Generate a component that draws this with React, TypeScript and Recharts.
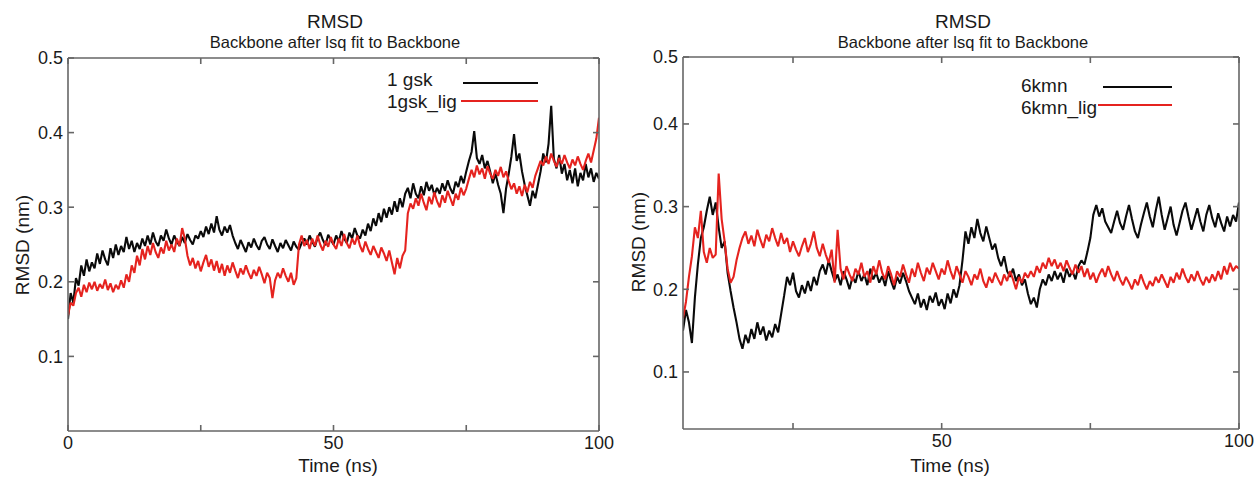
import { LineChart, Line, XAxis, YAxis } from "recharts";

// sampling step of both trajectories (ns)
const STEP = 0.5;

// 1gsk panel, t = 0 .. 100 ns
const gskStart = 0;
const gsk = [
  0.150, 0.185, 0.172, 0.205, 0.195, 0.222, 0.208, 0.230, 0.214, 0.226,
  0.218, 0.238, 0.224, 0.242, 0.230, 0.222, 0.245, 0.232, 0.250, 0.236,
  0.248, 0.240, 0.260, 0.244, 0.255, 0.240, 0.252, 0.244, 0.258, 0.248,
  0.262, 0.250, 0.266, 0.254, 0.248, 0.262, 0.255, 0.270, 0.258, 0.250,
  0.262, 0.254, 0.248, 0.260, 0.252, 0.264, 0.256, 0.250, 0.262, 0.258,
  0.268, 0.260, 0.274, 0.264, 0.278, 0.266, 0.288, 0.270, 0.262, 0.274,
  0.266, 0.276, 0.262, 0.252, 0.244, 0.256, 0.248, 0.240, 0.253, 0.246,
  0.258, 0.249, 0.243, 0.255, 0.260, 0.250, 0.244, 0.257, 0.248, 0.240,
  0.252, 0.245, 0.256, 0.249, 0.242, 0.254, 0.247, 0.243, 0.252, 0.258,
  0.250, 0.262, 0.254, 0.247, 0.259, 0.266, 0.256, 0.249, 0.263, 0.256,
  0.250, 0.262, 0.254, 0.268, 0.258, 0.252, 0.266, 0.258, 0.272, 0.262,
  0.258, 0.270, 0.262, 0.278, 0.268, 0.285, 0.275, 0.292, 0.280, 0.298,
  0.286, 0.300, 0.290, 0.308, 0.294, 0.312, 0.300, 0.318, 0.326, 0.312,
  0.332, 0.318, 0.312, 0.328, 0.316, 0.334, 0.322, 0.330, 0.316, 0.326,
  0.318, 0.332, 0.322, 0.336, 0.325, 0.318, 0.334, 0.327, 0.342, 0.332,
  0.348, 0.362, 0.374, 0.402, 0.366, 0.358, 0.370, 0.352, 0.362, 0.348,
  0.332, 0.345, 0.330, 0.318, 0.292, 0.325, 0.345, 0.368, 0.398, 0.362,
  0.372, 0.348, 0.330, 0.316, 0.302, 0.322, 0.312, 0.330, 0.348, 0.372,
  0.360, 0.385, 0.436, 0.365, 0.352, 0.370, 0.345, 0.358, 0.336, 0.350,
  0.332, 0.352, 0.328, 0.346, 0.336, 0.358, 0.340, 0.352, 0.334, 0.346,
  0.338,
];
const gskLig = [
  0.155, 0.172, 0.168, 0.185, 0.192, 0.180, 0.196, 0.186, 0.199, 0.190,
  0.200, 0.188, 0.197, 0.191, 0.203, 0.189, 0.198, 0.186, 0.196, 0.190,
  0.202, 0.192, 0.210, 0.200, 0.222, 0.212, 0.235, 0.222, 0.244, 0.230,
  0.248, 0.236, 0.252, 0.240, 0.232, 0.246, 0.238, 0.255, 0.242, 0.250,
  0.240, 0.258, 0.248, 0.272, 0.258, 0.235, 0.222, 0.232, 0.218, 0.228,
  0.214, 0.226, 0.236, 0.220, 0.230, 0.215, 0.228, 0.212, 0.224, 0.208,
  0.222, 0.212, 0.226, 0.215, 0.205, 0.218, 0.210, 0.222, 0.212, 0.204,
  0.216, 0.208, 0.220, 0.210, 0.198, 0.212, 0.205, 0.178, 0.202, 0.212,
  0.205, 0.218, 0.208, 0.200, 0.212, 0.196, 0.205, 0.250, 0.262, 0.248,
  0.256, 0.244, 0.258, 0.248, 0.262, 0.250, 0.242, 0.255, 0.247, 0.260,
  0.250, 0.244, 0.258, 0.248, 0.264, 0.252, 0.245, 0.258, 0.250, 0.262,
  0.248, 0.240, 0.254, 0.244, 0.236, 0.248, 0.240, 0.232, 0.246, 0.238,
  0.228, 0.242, 0.226, 0.210, 0.232, 0.218, 0.235, 0.242, 0.292, 0.305,
  0.298, 0.312, 0.302, 0.318, 0.306, 0.296, 0.314, 0.304, 0.320, 0.308,
  0.300, 0.316, 0.306, 0.322, 0.312, 0.302, 0.318, 0.310, 0.326, 0.316,
  0.325, 0.338, 0.350, 0.340, 0.356, 0.344, 0.352, 0.338, 0.355, 0.345,
  0.338, 0.350, 0.342, 0.354, 0.340, 0.348, 0.335, 0.324, 0.332, 0.318,
  0.328, 0.315, 0.330, 0.320, 0.334, 0.326, 0.342, 0.352, 0.362, 0.356,
  0.368, 0.358, 0.372, 0.362, 0.354, 0.366, 0.358, 0.370, 0.360, 0.352,
  0.364, 0.356, 0.368, 0.358, 0.350, 0.362, 0.372, 0.360, 0.376, 0.392,
  0.420,
];

// 6kmn panel, t = 6.5 .. 100 ns (axis is cut at the left)
const kmnStart = 6.5;
const kmn = [
  0.150, 0.175, 0.160, 0.135, 0.190, 0.230, 0.262,
  0.275, 0.295, 0.312, 0.290, 0.305, 0.275, 0.250, 0.258, 0.220, 0.198,
  0.178, 0.160, 0.140, 0.128, 0.145, 0.135, 0.152, 0.140, 0.160, 0.145,
  0.155, 0.138, 0.150, 0.142, 0.158, 0.148, 0.170, 0.192, 0.215, 0.205,
  0.220, 0.198, 0.190, 0.205, 0.195, 0.210, 0.198, 0.215, 0.205, 0.222,
  0.230, 0.218, 0.235, 0.222, 0.210, 0.218, 0.205, 0.222, 0.212, 0.200,
  0.215, 0.208, 0.222, 0.210, 0.218, 0.205, 0.225, 0.212, 0.220, 0.208,
  0.216, 0.204, 0.222, 0.210, 0.200, 0.215, 0.207, 0.220, 0.210, 0.198,
  0.190, 0.182, 0.195, 0.178, 0.188, 0.175, 0.192, 0.184, 0.196, 0.180,
  0.188, 0.176, 0.195, 0.183, 0.200, 0.190, 0.205, 0.235, 0.270, 0.255,
  0.275, 0.262, 0.285, 0.268, 0.258, 0.276, 0.262, 0.248, 0.255, 0.238,
  0.228, 0.240, 0.222, 0.215, 0.225, 0.210, 0.218, 0.205, 0.212, 0.195,
  0.182, 0.190, 0.178, 0.200, 0.212, 0.205, 0.218, 0.210, 0.222, 0.212,
  0.220, 0.208, 0.225, 0.215, 0.222, 0.212, 0.228, 0.235, 0.230, 0.245,
  0.262, 0.290, 0.302, 0.288, 0.298, 0.282, 0.275, 0.268, 0.282, 0.295,
  0.280, 0.272, 0.288, 0.302, 0.285, 0.270, 0.262, 0.278, 0.292, 0.305,
  0.288, 0.275, 0.295, 0.312, 0.290, 0.272, 0.286, 0.300, 0.278, 0.265,
  0.280, 0.295, 0.305, 0.288, 0.272, 0.285, 0.298, 0.282, 0.270, 0.290,
  0.302, 0.286, 0.275, 0.292, 0.280, 0.270, 0.288, 0.276, 0.290, 0.282,
  0.305,
];
const kmnLig = [
  0.165, 0.185, 0.215, 0.240, 0.275, 0.262, 0.295,
  0.245, 0.232, 0.250, 0.238, 0.242, 0.340, 0.285, 0.258, 0.225, 0.208,
  0.215, 0.235, 0.250, 0.262, 0.270, 0.255, 0.265, 0.252, 0.272, 0.260,
  0.250, 0.266, 0.258, 0.274, 0.262, 0.252, 0.268, 0.255, 0.262, 0.245,
  0.258, 0.248, 0.240, 0.252, 0.262, 0.245, 0.255, 0.270, 0.250, 0.240,
  0.255, 0.242, 0.232, 0.248, 0.208, 0.272, 0.225, 0.212, 0.228, 0.218,
  0.210, 0.225, 0.218, 0.232, 0.215, 0.222, 0.208, 0.228, 0.218, 0.235,
  0.220, 0.212, 0.228, 0.218, 0.205, 0.222, 0.215, 0.230, 0.218, 0.208,
  0.225, 0.215, 0.232, 0.220, 0.210, 0.226, 0.218, 0.232, 0.222, 0.212,
  0.225, 0.218, 0.235, 0.222, 0.212, 0.228, 0.218, 0.208, 0.222, 0.215,
  0.205, 0.218, 0.212, 0.225, 0.210, 0.202, 0.215, 0.208, 0.220, 0.212,
  0.205, 0.218, 0.210, 0.222, 0.212, 0.200, 0.215, 0.208, 0.220, 0.214,
  0.222, 0.215, 0.228, 0.220, 0.232, 0.225, 0.238, 0.228, 0.236, 0.225,
  0.232, 0.222, 0.235, 0.226, 0.218, 0.230, 0.220, 0.228, 0.215, 0.225,
  0.212, 0.220, 0.208, 0.218, 0.225, 0.215, 0.228, 0.218, 0.210, 0.222,
  0.212, 0.205, 0.215, 0.208, 0.200, 0.212, 0.205, 0.218, 0.208, 0.200,
  0.210, 0.204, 0.215, 0.208, 0.218, 0.210, 0.202, 0.215, 0.208, 0.220,
  0.212, 0.225, 0.215, 0.208, 0.218, 0.210, 0.222, 0.212, 0.205, 0.215,
  0.208, 0.218, 0.210, 0.222, 0.212, 0.228, 0.218, 0.232, 0.222, 0.228,
  0.225,
];

const gskXTicks = [0, 25, 50, 75, 100];
const kmnXTicks = [25, 50, 75, 100];
const gskYTicks = [0.1, 0.2, 0.3, 0.4, 0.5];
const kmnYTicks = [0.1, 0.2, 0.3, 0.4, 0.481];

const FONT = "'Liberation Sans', Arial, sans-serif";
const AXIS = "#666";
const BLACK = "#0a0a0a";
const RED = "#e5231f";

const toRows = (start: number, a: number[], b: number[]) =>
  a.map((v, i) => ({ t: +(start + i * STEP).toFixed(1), a: v, b: b[i] }));

const xFmt = (v: number) => (v % 50 === 0 ? String(v) : "");
const yFmt = (v: number) => v.toFixed(1);

const tickStyle = { fill: "#1a1a1a", fontSize: 18, fontFamily: FONT };

// legend drawn as an overlay so it doesn't eat plot height
const LegendBox = ({ items }: any) => (
  <div style={{ position: "absolute", left: 0, top: 0, fontFamily: FONT }}>
    {items.map((it: any) => (
      <div key={it.name}>
        <span
          style={{
            position: "absolute",
            left: it.tx,
            top: it.ty - 11,
            fontSize: 19,
            lineHeight: "22px",
            color: "#1a1a1a",
            whiteSpace: "nowrap",
          }}
        >
          {it.name}
        </span>
        <div
          style={{
            position: "absolute",
            left: it.x1,
            top: it.ly - 1,
            width: it.x2 - it.x1,
            height: 2,
            background: it.color,
          }}
        />
      </div>
    ))}
  </div>
);

const Panel = ({ left, width, data, domainX, xTicks, domainY, yTicks, margin, legend, names }: any) => (
  <div style={{ position: "absolute", left, top: 0, width, height: 477 }}>
    <LineChart width={width} height={477} data={data} margin={margin}>
      <XAxis
        dataKey="t"
        type="number"
        domain={domainX}
        ticks={xTicks}
        allowDataOverflow
        tickFormatter={xFmt}
        height={30}
        stroke={AXIS}
        strokeWidth={1.6}
        tickSize={-6}
        tickMargin={11}
        tick={tickStyle}
      />
      <XAxis
        xAxisId="top"
        dataKey="t"
        orientation="top"
        type="number"
        domain={domainX}
        ticks={xTicks}
        allowDataOverflow
        tickFormatter={() => ""}
        height={1}
        stroke={AXIS}
        strokeWidth={1.6}
        tickSize={-6}
      />
      <YAxis
        type="number"
        domain={domainY}
        ticks={yTicks}
        allowDataOverflow
        tickFormatter={yFmt}
        width={40}
        stroke={AXIS}
        strokeWidth={1.6}
        tickSize={-6}
        tickMargin={11}
        tick={tickStyle}
      />
      <YAxis
        yAxisId="r"
        orientation="right"
        type="number"
        domain={domainY}
        ticks={yTicks}
        allowDataOverflow
        tickFormatter={() => ""}
        width={1}
        stroke={AXIS}
        strokeWidth={1.6}
        tickSize={-6}
      />
      <Line
        dataKey="a"
        name={names[0]}
        stroke={BLACK}
        strokeWidth={2.1}
        strokeLinejoin="bevel"
        dot={false}
        isAnimationActive={false}
      />
      <Line
        dataKey="b"
        name={names[1]}
        stroke={RED}
        strokeWidth={2.1}
        strokeLinejoin="bevel"
        dot={false}
        isAnimationActive={false}
      />
    </LineChart>
    <LegendBox items={legend} />
  </div>
);

const Text = ({ x, y, size, children, rotate }: any) => (
  <div
    style={{
      position: "absolute",
      left: x,
      top: y,
      transform: `translate(-50%, -50%)${rotate ? " rotate(-90deg)" : ""}`,
      fontSize: size,
      fontFamily: FONT,
      color: "#1a1a1a",
      whiteSpace: "nowrap",
      lineHeight: 1,
    }}
  >
    {children}
  </div>
);

export default function App() {
  const left = toRows(gskStart, gsk, gskLig);
  const right = toRows(kmnStart, kmn, kmnLig);
  return (
    <div
      style={{
        position: "fixed",
        left: 0,
        top: 0,
        width: 1258,
        height: 477,
        background: "#fff",
        overflow: "hidden",
      }}
    >
      <Panel
        left={0}
        width={620}
        data={left}
        domainX={[0, 100]}
        xTicks={gskXTicks}
        domainY={[0, 0.5]}
        yTicks={gskYTicks}
        margin={{ top: 57, left: 28, right: 20, bottom: 16 }}
        names={["1 gsk", "1gsk_lig"]}
        legend={[
          { name: "1 gsk", tx: 387, ty: 80, x1: 463, x2: 538, ly: 83, color: BLACK },
          { name: "1gsk_lig", tx: 387, ty: 102, x1: 461, x2: 538, ly: 101, color: RED },
        ]}
      />
      <Panel
        left={620}
        width={638}
        data={right}
        domainX={[kmnStart, 100]}
        xTicks={kmnXTicks}
        domainY={[0.031, 0.481]}
        yTicks={kmnYTicks}
        margin={{ top: 56, left: 23, right: 18, bottom: 18 }}
        names={["6kmn", "6kmn_lig"]}
        legend={[
          { name: "6kmn", tx: 401, ty: 86, x1: 483, x2: 552, ly: 87, color: BLACK },
          { name: "6kmn_lig", tx: 401, ty: 108, x1: 478, x2: 552, ly: 105, color: RED },
        ]}
      />
      <Text x={335} y={21} size={19}>RMSD</Text>
      <Text x={335} y={42} size={16.5}>Backbone after lsq fit to Backbone</Text>
      <Text x={338} y={465} size={19}>Time (ns)</Text>
      <Text x={22} y={245} size={19} rotate>RMSD (nm)</Text>
      <Text x={963} y={21} size={19}>RMSD</Text>
      <Text x={963} y={42} size={16.5}>Backbone after lsq fit to Backbone</Text>
      <Text x={950} y={465} size={19}>Time (ns)</Text>
      <Text x={638} y={242} size={19} rotate>RMSD (nm)</Text>
    </div>
  );
}
